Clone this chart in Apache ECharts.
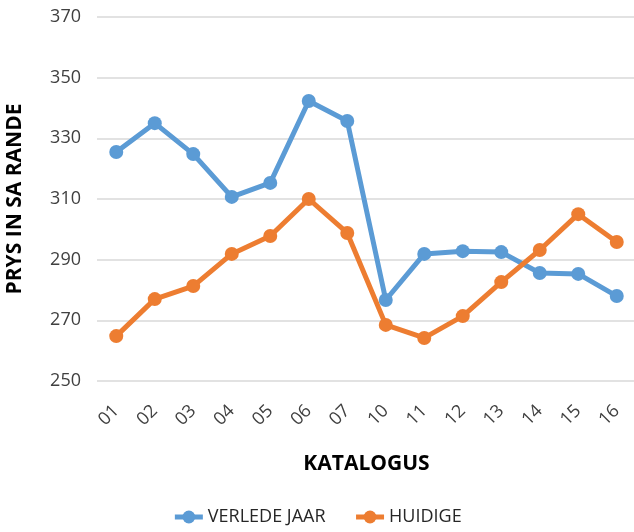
<!DOCTYPE html>
<html>
<head>
<meta charset="utf-8">
<script src="https://cdn.jsdelivr.net/npm/echarts@6/dist/echarts.min.js"></script>
<style>
  html, body { margin: 0; padding: 0; background: #fff; }
  #chart { width: 634px; height: 532px; }
</style>
</head>
<body>
<div id="chart"></div>
<script>
const categories = ['01', '02', '03', '04', '05', '06', '07', '10', '11', '12', '13', '14', '15', '16']
const verledeJaar = [325.5, 335, 324.8, 310.7, 315.3, 342.3, 335.7, 276.7, 291.9, 292.8, 292.5, 285.6, 285.3, 278]
const huidige = [264.8, 277, 281.3, 291.9, 297.8, 310, 298.8, 268.5, 264.2, 271.4, 282.6, 293.2, 305, 295.8]
const yMin = 250
const yMax = 370
const yStep = 20

const font = '"Open Sans", "Noto Sans", sans-serif'
let chart = echarts.init(document.getElementById('chart'))

const options = {
  animation: false,
  textStyle: { fontFamily: font },
  grid: {
    left: 97,
    top: 17,
    width: 539,
    height: 364,
    outerBoundsMode: 'none',
    containLabel: false
  },
  legend: {
    bottom: 1,
    left: 'center',
    itemWidth: 28,
    itemHeight: 16,
    itemGap: 28,
    lineStyle: { width: 5 },
    textStyle: { fontSize: 18, color: '#262626', fontFamily: font },
    data: ['VERLEDE JAAR', 'HUIDIGE']
  },
  xAxis: {
    type: 'category',
    data: categories,
    boundaryGap: true,
    name: 'KATALOGUS',
    nameLocation: 'middle',
    nameGap: 73,
    nameTextStyle: { fontSize: 21, fontWeight: 'bold', color: '#000', fontFamily: font },
    axisLine: { show: false },
    axisTick: { show: false },
    axisLabel: {
      rotate: 45,
      fontSize: 18,
      color: '#404040',
      margin: 27
    }
  },
  yAxis: {
    type: 'value',
    min: yMin,
    max: yMax,
    interval: yStep,
    name: 'PRYS IN SA RANDE',
    nameLocation: 'middle',
    nameGap: 71,
    nameTextStyle: { fontSize: 21, fontWeight: 'bold', color: '#000', fontFamily: font },
    axisLine: { show: false },
    axisTick: { show: false },
    axisLabel: { fontSize: 18, color: '#404040', margin: 16 },
    splitLine: { lineStyle: { color: '#d9d9d9', width: 1.5 } }
  },
  series: [
    {
      name: 'VERLEDE JAAR',
      type: 'line',
      data: verledeJaar,
      symbol: 'circle',
      symbolSize: 14,
      color: '#5b9bd5',
      lineStyle: { width: 5 }
    },
    {
      name: 'HUIDIGE',
      type: 'line',
      data: huidige,
      symbol: 'circle',
      symbolSize: 14,
      color: '#ed7d31',
      lineStyle: { width: 5 }
    }
  ]
}
chart.setOption(options)
</script>
</body>
</html>
